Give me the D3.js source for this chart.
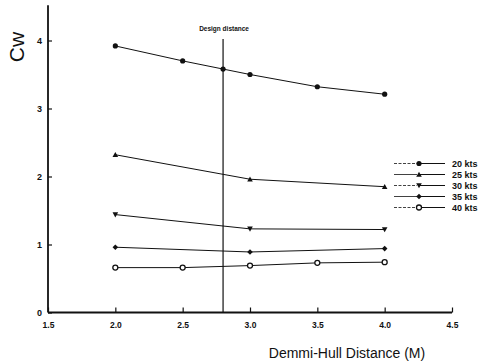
<!DOCTYPE html>
<html><head><meta charset="utf-8">
<script src="https://cdn.jsdelivr.net/npm/d3@7/dist/d3.min.js"></script>
<style>body{margin:0;background:#fff}svg{display:block}</style>
</head><body>
<svg id="c" width="482" height="364"></svg>
<script>
const seriesNames = ["20 kts","25 kts","30 kts","35 kts","40 kts"];
const x20 = [2.0,2.5,2.8,3.0,3.5,4.0];
const y20 = [3.92,3.70,3.58,3.50,3.32,3.21];
const x25 = [2.0,3.0,4.0];
const y25 = [2.32,1.96,1.85];
const x30 = [2.0,3.0,4.0];
const y30 = [1.44,1.23,1.22];
const x35 = [2.0,3.0,4.0];
const y35 = [0.96,0.89,0.94];
const x40 = [2.0,2.5,3.0,3.5,4.0];
const y40 = [0.66,0.66,0.69,0.73,0.74];
const markers = ["circle","triangle","invtriangle","diamond","opencircle"];
const xTicks = [1.5,2.0,2.5,3.0,3.5,4.0,4.5];
const yTicks = [0,1,2,3,4];
const designDistance = 2.8;

const svg = d3.select("#c");
const x = d3.scaleLinear().domain([1.5,4.5]).range([48,452]);
const y = d3.scaleLinear().domain([0,4]).range([312.5,40.5]);
const ink = "#111";

// axes lines
svg.append("line").attr("x1",x(1.5)).attr("x2",x(1.5)).attr("y1",y(0)).attr("y2",y(4.52))
  .attr("stroke",ink).attr("stroke-width",1.8);
svg.append("line").attr("x1",x(1.5)).attr("x2",x(4.5)).attr("y1",y(0)).attr("y2",y(0))
  .attr("stroke",ink).attr("stroke-width",1.8);

const xa = d3.axisBottom(x).tickValues(xTicks).tickFormat(d3.format(".1f")).tickSizeInner(-5).tickSizeOuter(0).tickPadding(9);
const gx = svg.append("g").attr("transform",`translate(0,${y(0)})`).call(xa);
gx.select(".domain").remove();
gx.selectAll("line").attr("stroke",ink).attr("stroke-width",1.2);
gx.selectAll("text").attr("font-family","Liberation Sans, Arial, sans-serif").attr("font-size",8.5).attr("font-weight","bold").attr("fill",ink);

const ya = d3.axisLeft(y).tickValues(yTicks).tickFormat(d3.format("d")).tickSizeInner(-4).tickSizeOuter(0).tickPadding(6);
const gy = svg.append("g").attr("transform",`translate(${x(1.5)},0)`).call(ya);
gy.select(".domain").remove();
gy.selectAll("line").attr("stroke",ink).attr("stroke-width",1.2);
gy.selectAll("text").attr("font-family","Liberation Sans, Arial, sans-serif").attr("font-size",9).attr("font-weight","bold").attr("fill",ink);

// design distance
svg.append("line").attr("x1",x(designDistance)).attr("x2",x(designDistance)).attr("y1",39).attr("y2",y(0))
  .attr("stroke",ink).attr("stroke-width",1.2);
svg.append("text").attr("x",x(designDistance)+1).attr("y",31).attr("text-anchor","middle")
  .attr("font-family","Liberation Sans, Arial, sans-serif").attr("font-size",6.5).attr("font-weight","bold").attr("fill",ink)
  .text("Design distance");

// titles
svg.append("text").attr("transform","translate(24,47) rotate(-90)").attr("text-anchor","middle")
  .attr("font-family","Liberation Sans, Arial, sans-serif").attr("font-size",21).attr("fill",ink).text("Cw");
svg.append("text").attr("x",347).attr("y",358).attr("text-anchor","middle")
  .attr("font-family","Liberation Sans, Arial, sans-serif").attr("font-size",14).attr("fill",ink).text("Demmi-Hull Distance (M)");

function drawMarker(g, type, cx, cy){
  const s = 2.8;
  if(type==="circle") g.append("circle").attr("cx",cx).attr("cy",cy).attr("r",2.6).attr("fill",ink);
  else if(type==="opencircle") g.append("circle").attr("cx",cx).attr("cy",cy).attr("r",2.5).attr("fill","#fff").attr("stroke",ink).attr("stroke-width",1.3);
  else if(type==="triangle") g.append("path").attr("d",`M${cx},${cy-s}L${cx+s},${cy+s*0.8}L${cx-s},${cy+s*0.8}Z`).attr("fill",ink);
  else if(type==="invtriangle") g.append("path").attr("d",`M${cx},${cy+s}L${cx+s},${cy-s*0.8}L${cx-s},${cy-s*0.8}Z`).attr("fill",ink);
  else if(type==="diamond") g.append("path").attr("d",`M${cx},${cy-s}L${cx+s},${cy}L${cx},${cy+s}L${cx-s},${cy}Z`).attr("fill",ink);
}

const data = [[x20,y20],[x25,y25],[x30,y30],[x35,y35],[x40,y40]];
const line = d3.line().x(d=>x(d[0])).y(d=>y(d[1]));
data.forEach(([xs,ys],i)=>{
  const pts = xs.map((v,j)=>[v,ys[j]]);
  svg.append("path").datum(pts).attr("d",line).attr("fill","none").attr("stroke",ink).attr("stroke-width",1);
  const g = svg.append("g");
  pts.forEach(p=>drawMarker(g, markers[i], x(p[0]), y(p[1])));
});

// legend
const lg = svg.append("g");
seriesNames.forEach((n,i)=>{
  const ly = 163.5 + i*11;
  lg.append("line").attr("x1",394).attr("x2",417).attr("y1",ly).attr("y2",ly).attr("stroke",ink).attr("stroke-width",0.8).attr("stroke-dasharray", i%2===0 ? "3,1.5" : null);
  lg.append("line").attr("x1",419).attr("x2",445).attr("y1",ly).attr("y2",ly).attr("stroke",ink).attr("stroke-width",1);
  drawMarker(lg, markers[i], 419, ly);
  lg.append("text").attr("x",452).attr("y",ly+3.2).attr("font-family","Liberation Sans, Arial, sans-serif")
    .attr("font-size",9).attr("font-weight","bold").attr("fill",ink).text(n);
});
</script>
</body></html>
